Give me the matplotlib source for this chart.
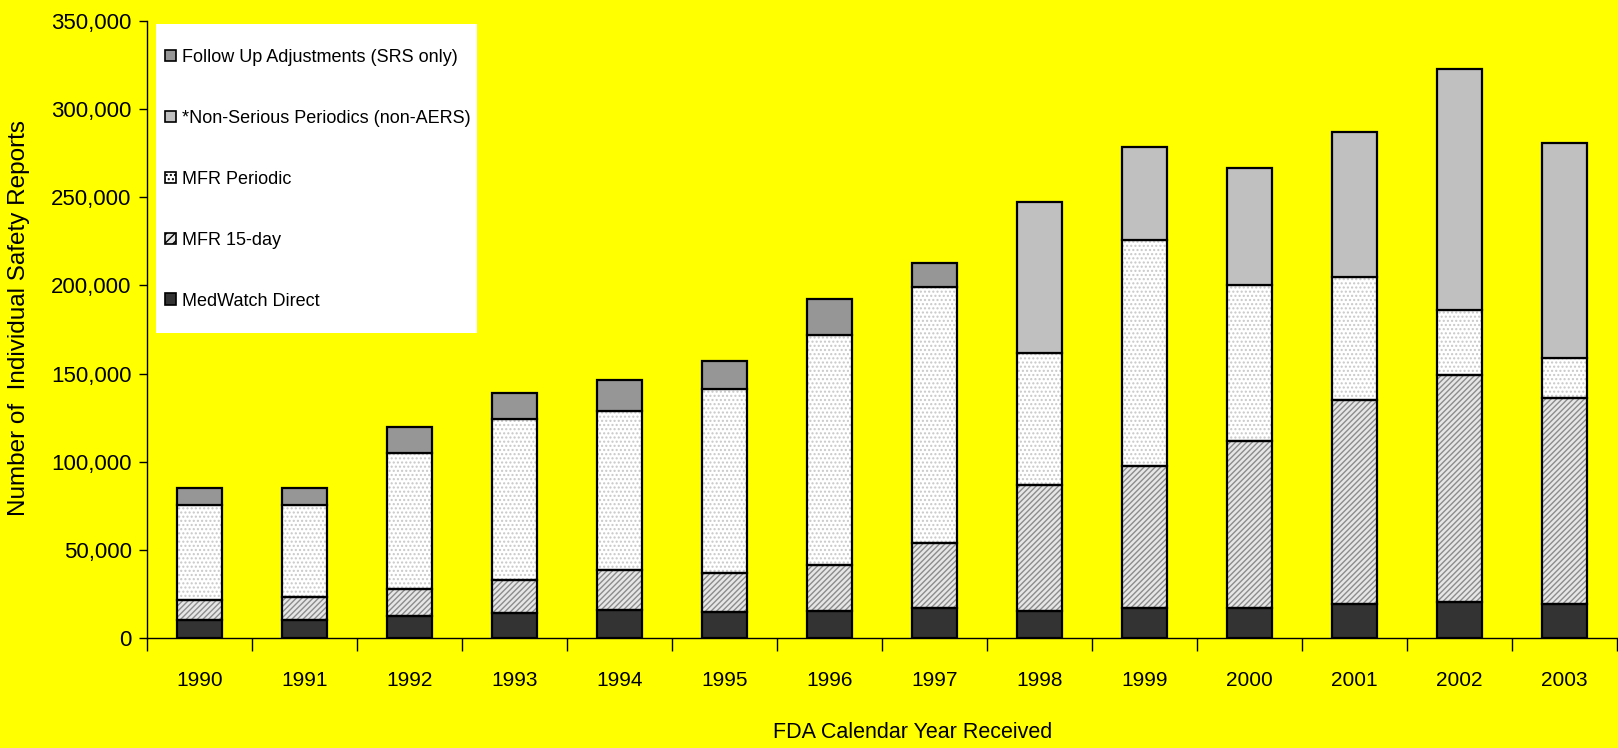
import matplotlib
matplotlib.use("Agg")
import matplotlib.pyplot as plt
import numpy as np
from matplotlib.patches import Patch, Rectangle
from matplotlib.ticker import FuncFormatter

years = ["1990", "1991", "1992", "1993", "1994", "1995", "1996",
         "1997", "1998", "1999", "2000", "2001", "2002", "2003"]

medwatch = [10000, 10000, 12500, 14000, 16000, 15000, 15500,
            17000, 15500, 17000, 17000, 19500, 20500, 19500]
mfr_15day = [11500, 13000, 15500, 19000, 22500, 22000, 26000,
             37000, 71500, 80500, 94500, 115500, 128500, 116500]
mfr_periodic = [54000, 52500, 77000, 91500, 90000, 104500, 130500,
                145000, 74500, 128000, 88500, 70000, 37000, 23000]
non_serious = [0, 0, 0, 0, 0, 0, 0,
               0, 86000, 53000, 66500, 82000, 137000, 122000]
follow_up = [9500, 9500, 14500, 14500, 18000, 15500, 20500,
             14000, 0, 0, 0, 0, 0, 0]

YELLOW = "#FFFF00"
FONT = ["Liberation Sans Narrow", "Liberation Sans", "DejaVu Sans"]

fig = plt.figure(figsize=(16.18, 7.48), dpi=100, facecolor=YELLOW)
ax = fig.add_axes([147 / 1618, 1 - 638 / 748, 1470 / 1618, 617 / 748])
ax.set_facecolor(YELLOW)

x = np.arange(len(years))
w = 0.42

# series: values, face colour, hatch, hatch colour
series = [
    (medwatch, "#333333", None, None),
    (mfr_15day, "#E6E6E6", "//////", "#8C8C8C"),
    (mfr_periodic, "#FFFFFF", "....", "#C8C8C8"),
    (non_serious, "#C0C0C0", None, None),
    (follow_up, "#969696", None, None),
]

bottom = np.zeros(len(years))
for vals, face, hatch, hcol in series:
    vals = np.array(vals, dtype=float)
    mask = vals > 0
    if hatch:
        ax.bar(x[mask], vals[mask], w, bottom=bottom[mask], color=face,
               hatch=hatch, edgecolor=hcol, linewidth=0, zorder=2)
        ax.bar(x[mask], vals[mask], w, bottom=bottom[mask], fill=False,
               edgecolor="black", linewidth=1.6, zorder=3)
    else:
        ax.bar(x[mask], vals[mask], w, bottom=bottom[mask], color=face,
               edgecolor="black", linewidth=1.6, zorder=3)
    bottom += vals

ax.set_xlim(-0.5, len(years) - 0.5)
ax.set_ylim(0, 350000)

for s in ["top", "right"]:
    ax.spines[s].set_visible(False)
ax.spines["left"].set_linewidth(1.0)
ax.spines["bottom"].set_linewidth(1.0)

ax.set_yticks(np.arange(0, 350001, 50000))
ax.yaxis.set_major_formatter(FuncFormatter(lambda v, p: f"{int(v):,}"))
ax.tick_params(axis="y", direction="out", length=6, width=1, pad=5,
               labelsize=16)

ax.set_xticks(np.arange(-0.5, len(years), 1.0))
ax.set_xticklabels([])
ax.tick_params(axis="x", which="major", direction="out", length=9, width=1)
ax.set_xticks(x, minor=True)
ax.set_xticklabels(years, minor=True)
ax.tick_params(axis="x", which="minor", length=0, pad=24, labelsize=15)

for lab in ax.get_xticklabels(minor=True) + ax.get_yticklabels():
    lab.set_family(FONT)

fig.text(19 / 1618, 1 - 318 / 748, "Number of  Individual Safety Reports",
         rotation=90, ha="center", va="center", fontsize=17.5,
         family=["Liberation Sans", "DejaVu Sans"])
fig.text(913 / 1618, 1 - 732 / 748, "FDA Calendar Year Received",
         ha="center", va="center", fontsize=15.5, family=FONT)

# legend box
fig.add_artist(Rectangle((156 / 1618, 1 - 333 / 748), 321 / 1618, 309 / 748,
                         transform=fig.transFigure, facecolor="white",
                         edgecolor="none", zorder=1))

handles = [
    Patch(facecolor="#969696", edgecolor="black", linewidth=1.2),
    Patch(facecolor="#C0C0C0", edgecolor="black", linewidth=1.2),
    Patch(facecolor="#FFFFFF", edgecolor="black", linewidth=1.2, hatch="...."),
    Patch(facecolor="#E6E6E6", edgecolor="black", linewidth=1.2, hatch="////"),
    Patch(facecolor="#333333", edgecolor="black", linewidth=1.2),
]
labels = ["Follow Up Adjustments (SRS only)",
          "*Non-Serious Periodics (non-AERS)",
          "MFR Periodic",
          "MFR 15-day",
          "MedWatch Direct"]
fig.legend(handles, labels, loc="upper left",
           bbox_to_anchor=(165 / 1618, 1 - 49 / 748),
           bbox_transform=fig.transFigure, frameon=False,
           prop={"family": FONT, "size": 13}, handlelength=0.6,
           handleheight=0.6, handletextpad=0.35, labelspacing=2.43,
           borderpad=0, borderaxespad=0)

fig.savefig("out.png", dpi=100, facecolor=YELLOW)
